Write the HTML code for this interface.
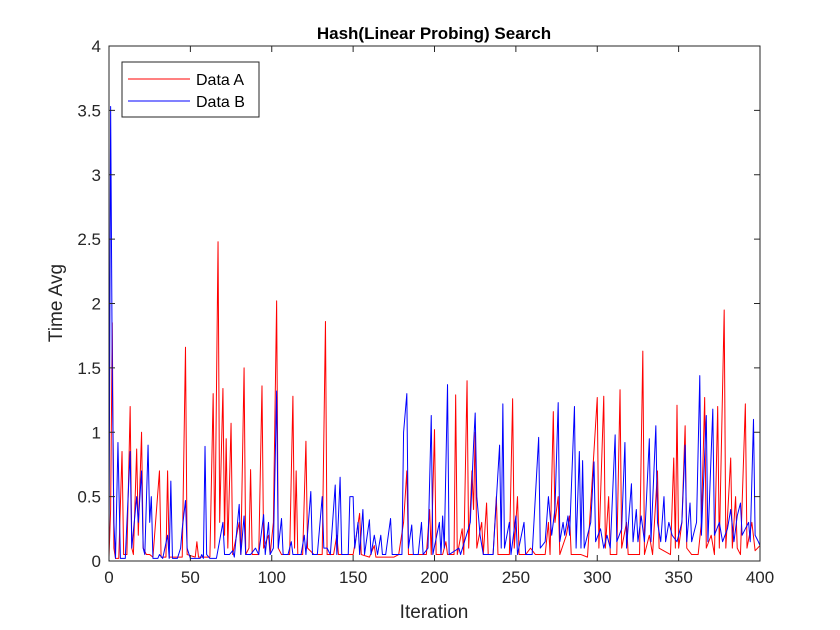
<!DOCTYPE html>
<html><head><meta charset="utf-8"><style>
html,body{margin:0;padding:0;background:#fff;}
svg{display:block;font-family:"Liberation Sans",Arial,sans-serif;}
</style></head><body>
<svg id="chart" width="840" height="630" viewBox="0 0 840 630">
<rect width="840" height="630" fill="#fff"/>
<rect x="109" y="46" width="651" height="515" fill="#fff"/>
<g id="grid"></g>
<g id="series"></g>
<rect x="109" y="46" width="651" height="515" fill="none" stroke="#262626" stroke-width="1"/>
<g id="ticks"></g>
<text x="434" y="39" text-anchor="middle" font-size="17" font-weight="bold" fill="#000">Hash(Linear Probing) Search</text>
<text x="434" y="618" text-anchor="middle" font-size="19" fill="#262626">Iteration</text>
<text transform="translate(62,303) rotate(-90)" text-anchor="middle" font-size="19" fill="#262626">Time Avg</text>
<g>
<rect x="122" y="62" width="137" height="55" fill="#fff" stroke="#262626" stroke-width="1"/>
<line x1="128" y1="79" x2="190" y2="79" stroke="#ff0000" stroke-width="1"/>
<text x="196" y="85" font-size="16" fill="#000">Data A</text>
<line x1="128" y1="101" x2="190" y2="101" stroke="#0000ff" stroke-width="1"/>
<text x="196" y="107" font-size="16" fill="#000">Data B</text>
</g>
</svg>
<script>
const xTicks = [0,50,100,150,200,250,300,350,400];
const yTicks = [0,0.5,1,1.5,2,2.5,3,3.5,4];
const yTickLabels = ["0","0.5","1","1.5","2","2.5","3","3.5","4"];
const iterA = [0,1,2,3,4,6,8,9,11,13,14,15,17,18,20,21,23,25,27,31,32,35,36,37,45,47,48,53,54,55,62,64,65,67,68,70,71,72,73,75,76,80,81,83,84,86,87,88,92,94,95,98,99,101,103,104,106,111,113,114,115,116,119,121,122,126,131,133,134,138,140,141,150,152,154,155,160,163,164,175,178,181,183,184,195,197,198,200,201,205,207,208,212,213,214,217,218,220,221,223,224,225,226,229,230,232,233,236,238,239,246,248,249,251,252,256,259,262,268,270,271,273,274,276,277,281,283,284,290,294,300,301,304,305,307,308,312,314,315,318,319,326,328,329,332,334,337,338,345,347,348,349,350,352,354,355,358,362,364,366,367,370,372,374,375,378,379,382,383,385,386,388,391,392,395,397,400];
const valA = [0.03,0.4,1.85,0.1,0.02,0.02,0.85,0.05,0.05,1.2,0.1,0.05,0.87,0.2,1.0,0.1,0.05,0.05,0.03,0.7,0.03,0.03,0.7,0.03,0.03,1.66,0.05,0.03,0.15,0.03,0.03,1.3,0.1,2.48,0.3,1.34,0.2,0.95,0.1,1.07,0.05,0.3,0.05,1.5,0.05,0.1,0.71,0.05,0.05,1.36,0.1,0.2,0.05,0.3,2.02,0.1,0.05,0.05,1.28,0.1,0.7,0.05,0.05,0.93,0.1,0.05,0.05,1.86,0.05,0.05,0.2,0.05,0.05,0.2,0.37,0.05,0.03,0.12,0.03,0.03,0.05,0.3,0.7,0.05,0.05,0.4,0.05,1.02,0.05,0.05,0.15,0.05,0.05,1.29,0.05,0.25,0.05,1.4,0.1,0.7,0.4,1.0,0.1,0.3,0.05,0.45,0.05,0.05,0.5,0.05,0.05,1.26,0.1,0.5,0.05,0.05,0.1,0.05,0.05,0.3,0.05,1.16,0.3,0.5,0.05,0.2,0.35,0.05,0.05,0.03,1.27,0.1,1.28,0.1,0.5,0.05,0.05,1.33,0.1,0.3,0.05,0.05,1.63,0.05,0.2,0.05,0.7,0.1,0.05,0.8,0.1,1.21,0.1,0.3,1.05,0.1,0.05,0.05,0.3,1.27,0.1,0.2,0.05,1.2,0.1,1.95,0.1,0.8,0.1,0.5,0.1,0.05,1.22,0.1,0.3,0.08,0.12];
const iterB = [0,1,2,3,4,5.5,7,10,13,14,17,18,20,21,22,24,25,26,27,30,31,33,36,37,38,39,42,44,45,47,48,50,56,57,58,59,60,62,66,70,71,74,76,77,80,81,83,84,87,90,92,95,96,98,99,101,103,104,106,107,110,112,113,118,120,121,124,125,128,131,132,134,136,139,140,142,143,147,148,150,151,153,154,156,157,160,161,163,165,167,168,170,173,174,180,181,183,184,186,187,190,192,193,196,198,199,203,204,205,206,208,209,215,216,222,224,225,226,228,230,236,240,241,242,243,246,247,250,251,255,256,260,264,265,268,270,272,274,276,277,279,280,282,283,286,287,289,290,291,292,294,296,298,299,302,304,306,308,311,312,315,317,318,321,322,324,325,327,329,332,333,336,337,339,341,342,344,346,349,352,354,355,357,358,361,363,364,367,368,371,372,375,377,380,382,384,386,388,389,391,393,394,396,397,399,400];
const valB = [0.05,3.53,1.5,0.3,0.02,0.92,0.02,0.02,0.85,0.1,0.5,0.3,0.7,0.1,0.05,0.9,0.3,0.5,0.02,0.02,0.05,0.02,0.2,0.02,0.62,0.02,0.02,0.1,0.25,0.47,0.1,0.02,0.02,0.05,0.02,0.89,0.05,0.02,0.02,0.3,0.05,0.05,0.08,0.03,0.44,0.05,0.35,0.05,0.05,0.1,0.05,0.36,0.05,0.3,0.05,0.1,1.32,0.1,0.33,0.05,0.05,0.15,0.05,0.05,0.2,0.05,0.54,0.05,0.05,0.5,0.1,0.1,0.05,0.59,0.05,0.65,0.05,0.05,0.5,0.5,0.1,0.3,0.05,0.4,0.05,0.32,0.05,0.2,0.05,0.2,0.05,0.05,0.33,0.05,0.05,1.0,1.3,0.1,0.28,0.05,0.05,0.3,0.05,0.1,1.13,0.05,0.3,0.05,0.35,0.1,1.37,0.05,0.1,0.05,0.3,0.9,1.15,0.5,0.2,0.05,0.05,0.9,0.1,1.22,0.1,0.3,0.05,0.35,0.05,0.3,0.05,0.05,0.96,0.1,0.15,0.5,0.2,0.4,1.23,0.15,0.3,0.2,0.35,0.2,1.2,0.1,0.85,0.1,0.78,0.1,0.2,0.3,0.77,0.15,0.25,0.1,0.2,0.1,0.98,0.15,0.25,0.92,0.1,0.6,0.15,0.4,0.15,0.35,0.15,0.95,0.15,1.05,0.3,0.15,0.5,0.15,0.3,0.2,0.15,0.3,0.9,0.15,0.45,0.15,0.3,1.44,0.2,1.13,0.15,1.18,0.2,0.3,0.15,0.25,0.4,0.15,0.35,0.45,0.2,0.25,0.3,0.15,1.1,0.2,0.15,0.12];

const NS = "http://www.w3.org/2000/svg";
const X0 = 109, X1 = 760, Y0 = 561, Y1 = 46;
function xScale(v){ return X0 + (v - 0) / 400 * (X1 - X0); }
function yScale(v){ return Y0 - (v - 0) / 4 * (Y0 - Y1); }

const ticks = document.getElementById('ticks');
xTicks.forEach((t) => {
  const x = xScale(t);
  const l1 = document.createElementNS(NS, 'line');
  l1.setAttribute('x1', x); l1.setAttribute('x2', x);
  l1.setAttribute('y1', Y0); l1.setAttribute('y2', Y0 - 6);
  l1.setAttribute('stroke', '#262626');
  
  
  ticks.appendChild(l1);
  const l2 = document.createElementNS(NS, 'line');
  l2.setAttribute('x1', x); l2.setAttribute('x2', x);
  l2.setAttribute('y1', Y1); l2.setAttribute('y2', Y1 + 6);
  l2.setAttribute('stroke', '#262626');
  
  
  ticks.appendChild(l2);
  const tx = document.createElementNS(NS, 'text');
  tx.setAttribute('x', x); tx.setAttribute('y', Y0 + 22);
  tx.setAttribute('text-anchor', 'middle');
  tx.setAttribute('font-size', '17');
  tx.setAttribute('fill', '#262626');
  tx.textContent = String(t);
  
  
  ticks.appendChild(tx);
});
yTicks.forEach((t, i) => {
  const y = yScale(t);
  const l1 = document.createElementNS(NS, 'line');
  l1.setAttribute('x1', X0); l1.setAttribute('x2', X0 + 6);
  l1.setAttribute('y1', y); l1.setAttribute('y2', y);
  l1.setAttribute('stroke', '#262626');
  
  
  ticks.appendChild(l1);
  const l2 = document.createElementNS(NS, 'line');
  l2.setAttribute('x1', X1); l2.setAttribute('x2', X1 - 6);
  l2.setAttribute('y1', y); l2.setAttribute('y2', y);
  l2.setAttribute('stroke', '#262626');
  
  
  ticks.appendChild(l2);
  const tx = document.createElementNS(NS, 'text');
  tx.setAttribute('x', X0 - 8); tx.setAttribute('y', y + 6);
  tx.setAttribute('text-anchor', 'end');
  tx.setAttribute('font-size', '17');
  tx.setAttribute('fill', '#262626');
  tx.textContent = yTickLabels[i];
  
  
  ticks.appendChild(tx);
});

const series = document.getElementById('series');
function drawLine(xs, ys, color, name){
  const pts = xs.map((x, i) => xScale(x).toFixed(2) + ',' + yScale(ys[i]).toFixed(2)).join(' ');
  const pl = document.createElementNS(NS, 'polyline');
  pl.setAttribute('points', pts);
  pl.setAttribute('fill', 'none');
  pl.setAttribute('stroke', color);
  pl.setAttribute('stroke-width', '1');
  pl.setAttribute('stroke-linejoin', 'round');
  
  
  series.appendChild(pl);
}
drawLine(iterA, valA, '#ff0000', 'series-data-a');
drawLine(iterB, valB, '#0000ff', 'series-data-b');
</script>
</body></html>
